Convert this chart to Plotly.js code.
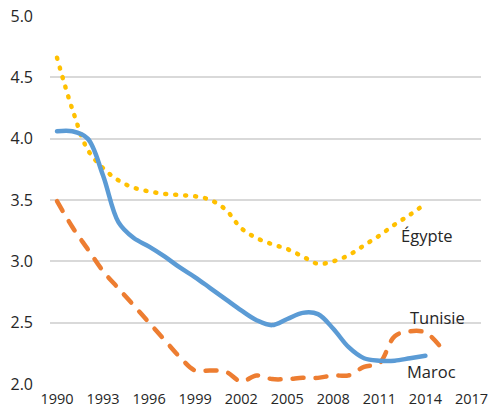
<!DOCTYPE html>
<html>
<head>
<meta charset="utf-8">
<script src="https://cdn.plot.ly/plotly-3.0.1.min.js"></script>
<style>
html,body{margin:0;padding:0;background:#fff;}
#chart{width:490px;height:411px;}
.js-line{stroke-linecap:round;stroke-linejoin:round;}
</style>
</head>
<body>
<div id="chart"></div>
<script>
const yearsTunisie = [1990,1991,1992,1993,1994,1995,1996,1997,1998,1999,2000,2001,2002,2003,2004,2005,2006,2007,2008,2009,2010,2011,2012,2013,2014];
const tunisie = [4.06,4.06,4.00,3.70,3.32,3.19,3.12,3.04,2.95,2.87,2.78,2.69,2.60,2.52,2.48,2.53,2.58,2.57,2.45,2.30,2.21,2.19,2.19,2.21,2.23];

const yearsEgypte = [1990,1991,1992,1993,1994,1995,1996,1997,1998,1999,2000,2001,2002,2003,2004,2005,2006,2007,2008,2009,2010,2011,2012,2013,2014];
const egypte = [4.66,4.24,3.91,3.76,3.66,3.60,3.57,3.55,3.54,3.53,3.50,3.42,3.27,3.19,3.14,3.10,3.04,2.98,3.00,3.05,3.13,3.21,3.30,3.38,3.47];

const yearsMaroc = [1990,1991,1992,1993,1994,1995,1996,1997,1998,1999,2000,2001,2002,2003,2004,2005,2006,2007,2008,2009,2010,2011,2012,2013,2014,2015];
const maroc = [3.49,3.28,3.10,2.92,2.78,2.64,2.50,2.36,2.22,2.11,2.11,2.10,2.02,2.07,2.04,2.04,2.05,2.05,2.07,2.07,2.14,2.17,2.39,2.43,2.42,2.30];

const xTicks = [1990,1993,1996,1999,2002,2005,2008,2011,2014,2017];
const yTicks = [2.0,2.5,3.0,3.5,4.0,4.5,5.0];

const labels = [
  {text:'Égypte', x:2012.25, y:3.21},
  {text:'Tunisie', x:2012.85, y:2.54},
  {text:'Maroc', x:2012.65, y:2.106}
];

const traces = [
  {x:yearsEgypte, y:egypte, mode:'lines', name:'Égypte',
   line:{color:'#FFC000', width:4.5, dash:'1px,9px', shape:'spline', smoothing:1}},
  {x:yearsMaroc, y:maroc, mode:'lines', name:'Maroc',
   line:{color:'#ED7D31', width:4.5, dash:'11px,12px', shape:'spline', smoothing:1}},
  {x:yearsTunisie, y:tunisie, mode:'lines', name:'Tunisie',
   line:{color:'#5B9BD5', width:4.5, shape:'spline', smoothing:1}}
];

const layout = {
  width:490, height:411,
  margin:{l:50, r:9, t:16, b:27},
  paper_bgcolor:'#fff', plot_bgcolor:'#fff',
  showlegend:false,
  font:{family:'Open Sans, sans-serif', color:'#262626'},
  xaxis:{
    range:[1989.544, 2017.62],
    tickvals:xTicks, ticktext:xTicks.map(String),
    showgrid:false, zeroline:false, showline:false,
    ticks:'', ticklabelstandoff:4,
    tickfont:{size:14.5, color:'#262626'}
  },
  yaxis:{
    range:[2,5],
    tickvals:yTicks, ticktext:yTicks.map(v=>v.toFixed(1)),
    showgrid:true, gridcolor:'#d9d9d9', gridwidth:2,
    zeroline:false, showline:false, ticks:'',
    ticklabelstandoff:16,
    tickfont:{size:16, color:'#262626'}
  },
  annotations: labels.map(l=>({
    text:l.text, x:l.x, y:l.y, xref:'x', yref:'y',
    xanchor:'left', yanchor:'middle', showarrow:false,
    font:{size:16.5, color:'#262626', family:'Open Sans, sans-serif'}
  }))
};

Plotly.newPlot('chart', traces, layout, {displayModeBar:false, staticPlot:true});
</script>
</body>
</html>
